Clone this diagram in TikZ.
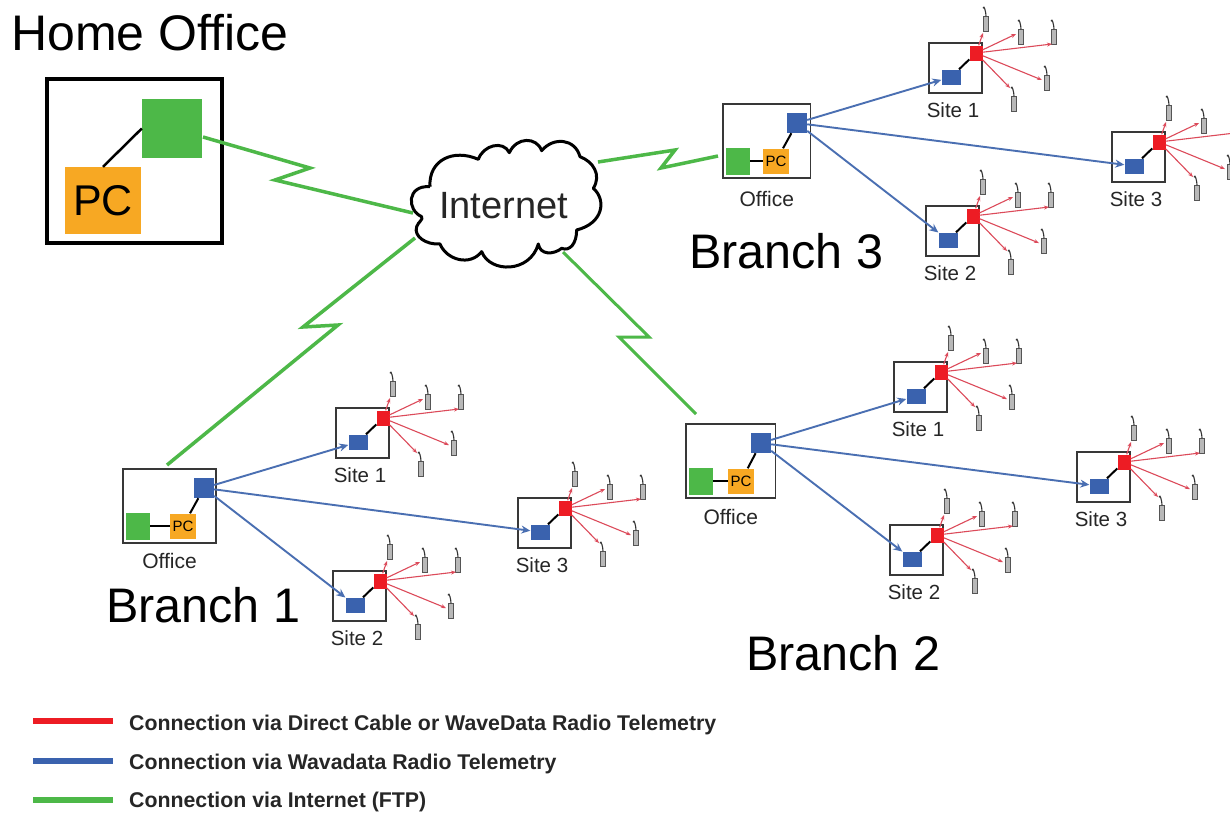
\documentclass[tikz,border=0pt]{standalone}
\usepackage{fontspec}
\setmainfont{Liberation Sans}
\definecolor{cred}{HTML}{ED1C24}
\definecolor{cblue}{HTML}{3A62AE}
\definecolor{cline}{HTML}{4A6FB2}
\definecolor{cgreen}{HTML}{4DB848}
\definecolor{corange}{HTML}{F7A823}
\definecolor{cthin}{HTML}{DC4A5A}
\definecolor{cprobe}{HTML}{555555}
\usetikzlibrary{arrows.meta}
\tikzset{
 x=1pt,y=-1pt,
 sq/.style={draw=none,inner sep=0pt,anchor=center,minimum width=#1},
 box/.style={draw=black!78,line width=1.8pt,fill=white,inner sep=0pt,anchor=north west},
 probe/.style={draw=cprobe,fill=black!28,line width=1pt,minimum width=4.5pt,minimum height=14.5pt,inner sep=0pt},
 hook/.style={draw=black!80,line width=1.1pt},
 redarrow/.style={draw=cthin,line width=1.1pt,-{Stealth[length=5pt,width=4pt]}},
 bluearrow/.style={draw=cline,line width=1.9pt,-{Stealth[length=9pt,width=8pt]}},
 link/.style={draw=black,line width=2pt},
 zig/.style={draw=cgreen,line width=3.5pt,line join=miter},
 lab/.style={font=\fontsize{20.5}{22}\selectfont,text=black!85,inner sep=0pt},
 big/.style={font=\fontsize{48.5}{52}\selectfont,inner sep=0pt,anchor=base west},
 leg/.style={font=\fontsize{21.3}{23}\selectfont\bfseries,text=black!85,inner sep=0pt,anchor=base west},
 bar/.style={inner sep=0pt,minimum width=80pt,minimum height=6pt,anchor=center},
}
% prefix, x, y (box top-left), label
\newcommand{\sitecluster}[4]{%
 \begin{scope}[shift={(#2,#3)}]
 \node[box,minimum width=53pt,minimum height=50pt] (#1box) at (0,0) {};
 \node[sq=13pt,minimum height=15pt,fill=cred] (#1r) at (48,11) {};
 \node[sq=19pt,minimum height=15pt,fill=cblue] (#1b) at (23,35) {};
 \draw[link] (#1r) -- (#1b);
 \node[lab] (#1lab) at (25,68) {#4};
 \probeat{#1p1}{58}{-18}\probeat{#1p2}{93}{-5}\probeat{#1p3}{126}{-5}\probeat{#1p4}{119}{41}\probeat{#1p5}{86}{62}
 \coordinate (#1e1) at (55,-9);
 \coordinate (#1e2) at (88,-8);
 \coordinate (#1e3) at (124,2);
 \coordinate (#1e4) at (114,38);
 \coordinate (#1e5) at (82,46);
 \foreach \k in {1,...,5}{\draw[redarrow] (#1r) -- (#1e\k);}
 \end{scope}}
\newcommand{\probeat}[3]{%
 \node[probe] (#1) at (#2,#3) {};
 \draw[hook] (#1.north) .. controls +(0,-4) and +(1,-4) .. +(-3,-8);}
% prefix, x, y, box width, blue x, pc x, label y
\newcommand{\office}[7]{%
 \begin{scope}[shift={(#2,#3)}]
 \node[box,minimum width=#4pt,minimum height=74pt] (#1box) at (0,0) {};
 \node[sq=20pt,minimum height=20pt,fill=cblue] (#1b) at (#5,20) {};
 \node[sq=24pt,minimum height=27pt,fill=cgreen] (#1g) at (16,58) {};
 \node[sq=26pt,minimum height=25pt,fill=corange,font=\fontsize{15}{16}\selectfont] (#1pc) at (#6,58) {PC};
 \draw[link] (#1g) -- (#1pc);
 \draw[link] (#1pc) -- (#1b);
 \node[lab,font=\fontsize{21}{22}\selectfont] (#1lab) at (#4/2+1,#7) {Office};
 \end{scope}}
\begin{document}
\begin{tikzpicture}
\useasboundingbox (0,0) rectangle (1230,812);
\clip (0,0) rectangle (1230,812);
\fill[white] (0,0) rectangle (1230,812);
% Home office
\node[font=\fontsize{50}{52}\selectfont,inner sep=0pt,anchor=base west] (hometitle) at (11,50) {Home Office};
\node[draw=black,line width=4pt,inner sep=0pt,minimum width=175pt,minimum height=164pt,anchor=north west] (homebox) at (45,77) {};
\node[sq=60pt,minimum height=59pt,fill=cgreen] (homeg) at (172,128.5) {};
\node[sq=76pt,minimum height=67pt,fill=corange,font=\fontsize{43}{45}\selectfont] (homepc) at (103,200.5) {PC};
\draw[link,line width=2.5pt] (homepc.north) -- (homeg.west);
% Cloud
\begin{scope}[shift={(380,120)},x=.3333pt,y=-.3333pt]
\draw[line width=3pt,fill=white,line join=round] (150,200)
 .. controls (145,120) and (220,85) .. (295,118)
 .. controls (310,75) and (370,60) .. (388,98)
 .. controls (410,50) and (470,50) .. (485,92)
 .. controls (520,50) and (585,55) .. (600,110)
 .. controls (640,125) and (665,165) .. (640,205)
 .. controls (680,240) and (670,310) .. (590,330)
 .. controls (590,370) and (570,395) .. (545,385)
 .. controls (520,405) and (480,405) .. (475,372)
 .. controls (450,460) and (330,460) .. (305,395)
 .. controls (270,440) and (200,420) .. (180,372)
 .. controls (140,375) and (100,350) .. (110,320)
 .. controls (115,305) and (130,300) .. (125,290)
 .. controls (80,270) and (80,195) .. (150,200);
\end{scope}
\node[inner sep=0pt,font=\fontsize{38}{40}\selectfont,text=black!85] (internet) at (503.5,206) {Internet};
% Zigzag links
\coordinate (cw1) at (413,213); \coordinate (cw2) at (415,238);
\coordinate (cs) at (563,252); \coordinate (ce) at (598,162);
\coordinate (k1) at (310,168); \coordinate (k2) at (275,180);
\coordinate (k3) at (303,327); \coordinate (k4) at (338,325);
\coordinate (k5) at (649,337); \coordinate (k6) at (619,337);
\coordinate (k7) at (675,150); \coordinate (k8) at (661,168);
\coordinate (b1top) at (167,465); \coordinate (b2top) at (696,414); \coordinate (b3left) at (718,156); \coordinate (homeout) at (203,137);
\draw[zig] (homeout) -- (k1) -- (k2) -- (cw1);
\draw[zig] (cw2) -- (k3) -- (k4) -- (b1top);
\draw[zig,line width=3pt] (cs) -- (k5) -- (k6) -- (b2top);
\draw[zig] (ce) -- (k7) -- (k8) -- (b3left);
% Offices
\office{oa}{122}{468}{93}{82}{61}{93}
\office{ob}{685}{423}{89.5}{76}{56}{94}
\office{oc}{722}{103}{87.5}{75}{54}{96}
% Sites
\sitecluster{aa}{335}{407}{Site 1}
\sitecluster{ab}{332}{570}{Site 2}
\sitecluster{ac}{517}{497}{Site 3}
\sitecluster{ba}{893}{361}{Site 1}
\sitecluster{bb}{889}{524}{Site 2}
\sitecluster{bc}{1076}{451}{Site 3}
\sitecluster{ca}{928}{42}{Site 1}
\sitecluster{cb}{925}{205}{Site 2}
\sitecluster{cc}{1111}{131}{Site 3}
% Blue arrows
\foreach \o/\s in {oa/aa,oa/ab,oa/ac,ob/ba,ob/bb,ob/bc,oc/ca,oc/cb,oc/cc}{\draw[bluearrow] (\o b) -- (\s b);}
% Titles
\node[big] (b1) at (106,622) {Branch 1};
\node[big] (b2) at (746,670) {Branch 2};
\node[big] (b3) at (689,268) {Branch 3};
% Legend
\node[bar,fill=cred] (l1) at (73,721) {};
\node[bar,fill=cblue] (l2) at (73,761) {};
\node[bar,fill=cgreen] (l3) at (73,800) {};
\node[leg] (t1) at (129,730) {Connection via Direct Cable or WaveData Radio Telemetry};
\node[leg] (t2) at (129,769) {Connection via Wavadata Radio Telemetry};
\node[leg] (t3) at (129,807) {Connection via Internet (FTP)};
\end{tikzpicture}
\end{document}
